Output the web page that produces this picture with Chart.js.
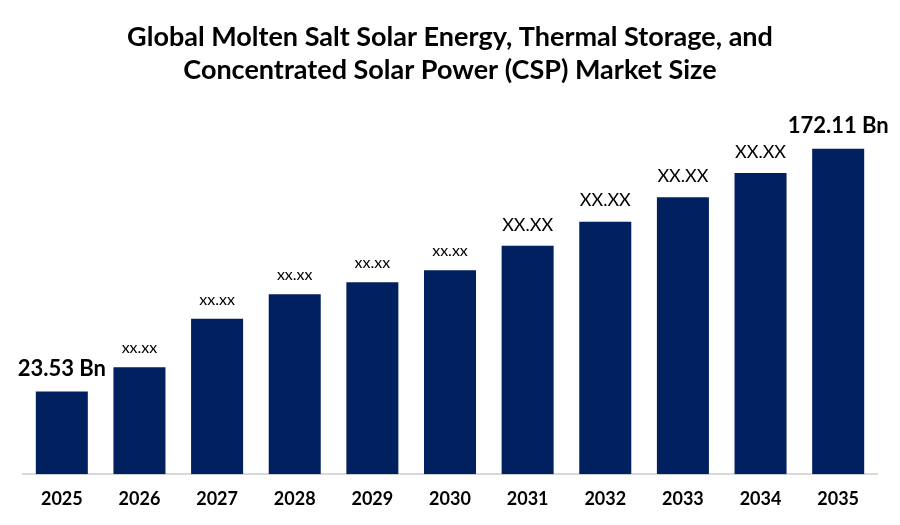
<!DOCTYPE html>
<html>
<head>
<meta charset="utf-8">
<script src="https://cdn.jsdelivr.net/npm/chart.js@4"></script>
<style>
  html, body { margin: 0; padding: 0; background: #fff; }
  #wrap { width: 900px; height: 525px; position: relative; }
</style>
</head>
<body>
<div id="wrap"><canvas id="marketChart"></canvas></div>
<script>
// data (bars are not drawn from zero, see yMin)
const years = ['2025', '2026', '2027', '2028', '2029', '2030', '2031', '2032', '2033', '2034', '2035'];
const marketSize = [23.53, 38.4, 68.1, 83.0, 90.4, 97.8, 112.7, 127.5, 142.4, 157.3, 172.11];
const barLabels = ['23.53 Bn', 'xx.xx', 'xx.xx', 'xx.xx', 'xx.xx', 'xx.xx', 'XX.XX', 'XX.XX', 'XX.XX', 'XX.XX', '172.11 Bn'];
const titleLines = [
    'Global Molten Salt Solar Energy, Thermal Storage, and',
    'Concentrated Solar Power (CSP) Market Size'
];
const yMin = -27.24;
const yMax = 195.6;

// labels above the bars
const barLabelPlugin = {
    id: 'barLabels',
    afterDatasetsDraw(chart) {
        const ctx = chart.ctx;
        const meta = chart.getDatasetMeta(0);
        ctx.save();
        ctx.textAlign = 'center';
        ctx.textBaseline = 'middle';
        ctx.fillStyle = '#000';
        meta.data.forEach((bar, i) => {
            const last = barLabels.length - 1;
            let font = '16px Lato';
            let offset = 19;
            if (i === 0 || i === last) {
                font = 'bold 22px Lato';
                offset = 23;
            } else if (i >= 6) {
                font = '18px Lato';
                offset = 21;
            }
            ctx.font = font;
            ctx.fillText(barLabels[i], bar.x, bar.y - offset);
        });
        ctx.restore();
    }
};

const ctx = document.getElementById('marketChart').getContext('2d');
new Chart(ctx, {
    type: 'bar',
    data: {
        labels: years,
        datasets: [{
            data: marketSize,
            base: yMin,
            backgroundColor: '#002060',
            categoryPercentage: 0.67,
            barPercentage: 1
        }]
    },
    options: {
        responsive: true,
        maintainAspectRatio: false,
        animation: false,
        layout: { padding: { left: 23, right: 23, bottom: 0 } },
        plugins: {
            legend: { display: false },
            tooltip: { enabled: false },
            title: {
                display: true,
                text: titleLines,
                color: '#000',
                font: { family: 'Lato', size: 27, weight: 'bold', lineHeight: 1.25 },
                padding: { top: 20, bottom: 23 }
            }
        },
        scales: {
            x: {
                grid: { display: false, drawTicks: false },
                border: { display: true, color: '#d9d9d9', width: 2 },
                ticks: {
                    color: '#000',
                    padding: 15,
                    font: { family: 'Lato', size: 18, weight: 'bold', lineHeight: 1.15 }
                }
            },
            y: {
                display: false,
                min: yMin,
                max: yMax
            }
        }
    },
    plugins: [barLabelPlugin]
});
</script>
</body>
</html>
